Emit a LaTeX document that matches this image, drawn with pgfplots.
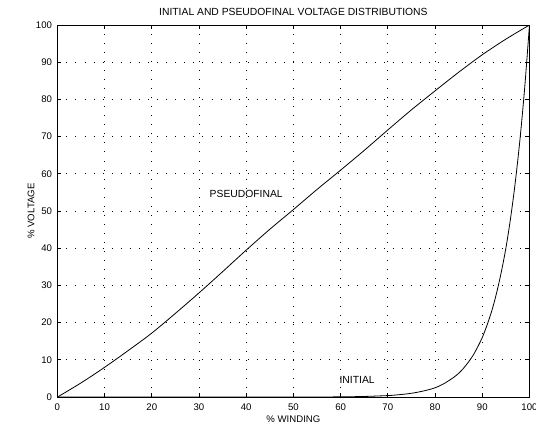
\documentclass[border=0pt]{standalone}
\usepackage{pgfplots}
\pgfplotsset{compat=1.18}
\usepackage{fontspec}
\setmainfont{Liberation Sans}

\begin{document}
\begin{tikzpicture}
\fontsize{7.2}{8.6}\selectfont
\begin{axis}[
  scale only axis,
  width=354pt, height=279pt,
  xmin=0, xmax=100, ymin=0, ymax=100,
  xtick={0,10,...,100}, ytick={0,10,...,100},
  tick align=inside,
  major tick length=3pt,
  tick style={black, line width=0.6pt},
  axis line style={line width=0.75pt},
  grid=major,
  grid style={black, line width=0.6pt, dash pattern=on 0.6pt off 6.2pt},
  /pgf/number format/assume math mode=true,
  ticklabel style={font=\fontsize{7.2}{8.6}\selectfont},
  xticklabel style={inner sep=0pt, anchor=north, yshift=-4.8pt},
  yticklabel style={inner sep=0pt, anchor=east, xshift=-3.8pt},
  title={INITIAL AND PSEUDOFINAL VOLTAGE DISTRIBUTIONS},
  every axis title/.style={at={(0.5,1)}, anchor=base, inner sep=0pt, yshift=6.8pt, font=\fontsize{7.75}{9}\selectfont},
  xlabel={\% WINDING},
  every axis x label/.style={at={(axis description cs:0.5,0)}, anchor=north, inner sep=0pt, yshift=-13.6pt, font=\fontsize{7.2}{8.6}\selectfont},
  ylabel={\% VOLTAGE},
  every axis y label/.style={at={(axis description cs:0,0.5)}, rotate=90, anchor=center, inner sep=0pt, yshift=19.7pt, font=\fontsize{7.2}{8.6}\selectfont},
]
% pseudofinal distribution
\addplot[black, line width=0.6pt, smooth] coordinates {
  (0,0) (5,3.8) (10,8.0) (15,12.5) (20,17.2) (25,22.5) (30,28.0)
  (35,33.7) (40,39.5) (45,45.1) (50,50.4) (55,55.8) (60,61.0)
  (65,66.3) (70,71.8) (75,77.2) (80,82.3) (85,87.3) (90,92.0)
  (95,96.2) (100,100)
};
% initial distribution
\addplot[black, line width=0.6pt, smooth] coordinates {
  (0,0) (50,0.0) (55,0.03) (60,0.07) (65,0.17) (70,0.41) (72,0.6)
  (74,0.86) (76,1.24) (78,1.78) (80,2.5) (82,3.7) (84,5.35)
  (85,6.4) (86,7.7) (87,9.3) (88,11.1) (89,13.4) (90,16.0)
  (91,19.3) (92,23.1) (93,27.8) (94,33.4) (95,40.0) (96,48.1)
  (97,57.8) (98,69.4) (99,83.3) (100,100)
};
\node[inner sep=0pt, font=\fontsize{7.75}{9}\selectfont] at (axis cs:40,54.7) {PSEUDOFINAL};
\node[inner sep=0pt, font=\fontsize{7.75}{9}\selectfont] at (axis cs:63.5,4.7) {INITIAL};
\end{axis}
\pgfresetboundingbox
\path[use as bounding box] ([xshift=-43pt,yshift=-21.2pt]current axis.south west)
  rectangle ([xshift=4.9pt,yshift=18.75pt]current axis.north east);
\end{tikzpicture}
\end{document}
